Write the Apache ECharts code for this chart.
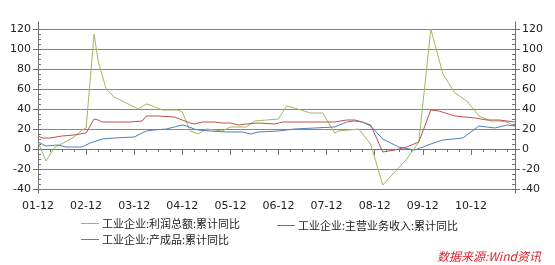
<!DOCTYPE html>
<html>
<head>
<meta charset="utf-8">
<script src="https://cdn.jsdelivr.net/npm/echarts@6/dist/echarts.min.js"></script>
<style>html,body{margin:0;padding:0;background:#fff}#c{width:555px;height:265px}</style>
</head>
<body>
<div id="c"></div>
<script>
// Monthly categories Dec 2001 .. Nov 2011
const categories = [];
for (let i = 0; i < 120; i++) {
  const t = 2001 * 12 + 11 + i;
  const y = Math.floor(t / 12), mo = t % 12 + 1;
  categories.push(y + '-' + String(mo).padStart(2, '0'));
}
const yTicks = [-40, -20, 0, 20, 40, 60, 80, 100, 120];
const seriesNames = ['工业企业:利润总额:累计同比', '工业企业:主营业务收入:累计同比', '工业企业:产成品:累计同比'];

const profit = [['2001-12',7],['2002-02',-12],['2002-04',1],['2002-09',12],['2002-11',19],['2002-12',21],['2003-02',115],['2003-03',88],['2003-05',60],['2003-07',52],['2003-10',46],['2004-01',40],['2004-03',45],['2004-04',44],['2004-07',39],['2004-11',39],['2004-12',37],['2005-02',18],['2005-04',15],['2005-06',20],['2005-08',19],['2005-10',18],['2005-12',22],['2006-04',22],['2006-06',28],['2006-09',29],['2006-12',30],['2007-02',43],['2007-04',41],['2007-08',36],['2007-11',36],['2008-02',16],['2008-03',18],['2008-08',20],['2008-11',5],['2009-02',-36],['2009-08',-10],['2009-11',7],['2010-02',120],['2010-05',75],['2010-08',56],['2010-11',48],['2011-02',33],['2011-05',28],['2011-07',28],['2011-09',27],['2011-11',23]];

const revenue = [['2001-12',13],['2002-01',11],['2002-03',11],['2002-06',13],['2002-09',14],['2002-12',16],['2003-02',30],['2003-03',29],['2003-04',27],['2003-11',27],['2004-02',28],['2004-03',33],['2004-06',33],['2004-10',32],['2004-12',29],['2005-02',26],['2005-03',25],['2005-05',27],['2005-08',27],['2005-10',26],['2005-12',26],['2006-02',24],['2006-04',25],['2006-07',26],['2006-11',25],['2007-01',27],['2008-02',27],['2008-05',29],['2008-07',29],['2008-08',28],['2008-11',24],['2009-02',-3],['2009-05',-1],['2009-08',2],['2009-11',7],['2010-02',39],['2010-04',38],['2010-08',33],['2011-01',31],['2011-04',29],['2011-07',29],['2011-11',27]];

const inventory = [['2001-12',7],['2002-02',3],['2002-05',4],['2002-07',2],['2002-11',2],['2003-01',6],['2003-04',10],['2003-07',11],['2003-12',12],['2004-03',18],['2004-05',19],['2004-08',20],['2004-10',22],['2004-12',24],['2005-01',23],['2005-03',20],['2005-04',19],['2005-07',18],['2005-11',17],['2006-03',17],['2006-05',15],['2006-07',17],['2006-12',18],['2007-04',20],['2007-09',21],['2008-02',22],['2008-05',27],['2008-07',28],['2008-09',27],['2008-11',23],['2009-02',10],['2009-06',2],['2009-10',-1],['2010-02',5],['2010-05',9],['2010-10',11],['2011-02',23],['2011-04',22],['2011-06',21],['2011-09',24],['2011-11',23]];

const colors = ['#a3b85e', '#c0504d', '#4f81bd'];
const labelFont = { fontFamily: 'DejaVu Sans', fontSize: 11, color: '#222' };
const cjkFont = { fontFamily: 'Noto Sans CJK SC', fontSize: 11, color: '#222' };
const axisColor = '#707070';
const gridColor = '#858585';

const chart = echarts.init(document.getElementById('c'), null, { renderer: 'canvas' });

function legendAt(name, left, top) {
  return {
    data: [{ name: name, icon: 'rect' }], left: left, top: top, orient: 'horizontal',
    itemWidth: 18, itemHeight: 1, padding: 0, selectedMode: false,
    textStyle: Object.assign({ padding: [0, 0, 0, -2] }, cjkFont)
  };
}

const option = {
  animation: false,
  backgroundColor: '#fff',
  color: colors,
  grid: [
    { left: 38, right: 40, top: 22, bottom: 72, containLabel: false },
    { left: 38, right: 40, top: 29, bottom: 76, containLabel: false }
  ],
  legend: [
    legendAt(seriesNames[0], 81, 218),
    legendAt(seriesNames[1], 277, 220),
    legendAt(seriesNames[2], 81, 234)
  ],
  title: {
    text: '数据来源:Wind资讯', left: 437, top: 250, padding: 0,
    textStyle: { fontFamily: 'Noto Sans CJK SC', fontSize: 12, fontStyle: 'italic', fontWeight: 'normal', color: '#e0202a' }
  },
  xAxis: [
    { // minor ticks + axis line
      type: 'category', gridIndex: 0, data: categories, boundaryGap: false, position: 'bottom',
      axisLine: { show: true, lineStyle: { color: axisColor, width: 1 } },
      axisTick: { show: true, interval: 2, length: 3, lineStyle: { color: axisColor } },
      axisLabel: { show: false }, splitLine: { show: false }
    },
    { // major ticks + labels
      type: 'category', gridIndex: 0, data: categories, boundaryGap: false, position: 'bottom',
      axisLine: { show: false },
      axisTick: { show: true, interval: 11, length: 6, lineStyle: { color: axisColor } },
      axisLabel: { show: true, interval: 11, margin: 8, formatter: v => v.slice(2), ...labelFont },
      splitLine: { show: false }
    },
    { type: 'category', gridIndex: 1, data: categories, boundaryGap: false, show: false }
  ],
  yAxis: [
    { type: 'value', gridIndex: 0, position: 'left', min: -44, max: 127,
      axisLine: { show: true, lineStyle: { color: axisColor } }, axisTick: { show: false }, axisLabel: { show: false }, splitLine: { show: false } },
    { type: 'value', gridIndex: 0, position: 'right', min: -44, max: 127,
      axisLine: { show: true, lineStyle: { color: axisColor } }, axisTick: { show: false }, axisLabel: { show: false }, splitLine: { show: false } },
    { type: 'value', gridIndex: 1, position: 'left', min: yTicks[0], max: yTicks[yTicks.length - 1], interval: 20,
      axisLine: { show: false }, axisTick: { show: true, length: 5, lineStyle: { color: axisColor } },
      axisLabel: { margin: 7, ...labelFont }, splitLine: { show: true, lineStyle: { color: gridColor, width: 1 } } },
    { type: 'value', gridIndex: 1, position: 'right', min: yTicks[0], max: yTicks[yTicks.length - 1], interval: 20,
      axisLine: { show: false }, axisTick: { show: true, length: 5, lineStyle: { color: axisColor } },
      axisLabel: { margin: 7, ...labelFont }, splitLine: { show: false } },
    { type: 'value', gridIndex: 1, position: 'left', min: yTicks[0], max: yTicks[yTicks.length - 1], interval: 5,
      axisLine: { show: false }, axisTick: { show: true, inside: true, length: 3, lineStyle: { color: axisColor } },
      axisLabel: { show: false }, splitLine: { show: false } },
    { type: 'value', gridIndex: 1, position: 'right', min: yTicks[0], max: yTicks[yTicks.length - 1], interval: 5,
      axisLine: { show: false }, axisTick: { show: true, inside: true, length: 3, lineStyle: { color: axisColor } },
      axisLabel: { show: false }, splitLine: { show: false } }
  ],
  series: [
    { name: seriesNames[0], type: 'line', xAxisIndex: 0, yAxisIndex: 0, data: profit, symbol: 'none', connectNulls: true, lineStyle: { width: 1, color: colors[0] }, itemStyle: { color: colors[0] } },
    { name: seriesNames[1], type: 'line', xAxisIndex: 0, yAxisIndex: 0, data: revenue, symbol: 'none', connectNulls: true, lineStyle: { width: 1, color: colors[1] }, itemStyle: { color: colors[1] } },
    { name: seriesNames[2], type: 'line', xAxisIndex: 0, yAxisIndex: 0, data: inventory, symbol: 'none', connectNulls: true, lineStyle: { width: 1, color: colors[2] }, itemStyle: { color: colors[2] } }
  ]
};
chart.setOption(option);
</script>
</body>
</html>
